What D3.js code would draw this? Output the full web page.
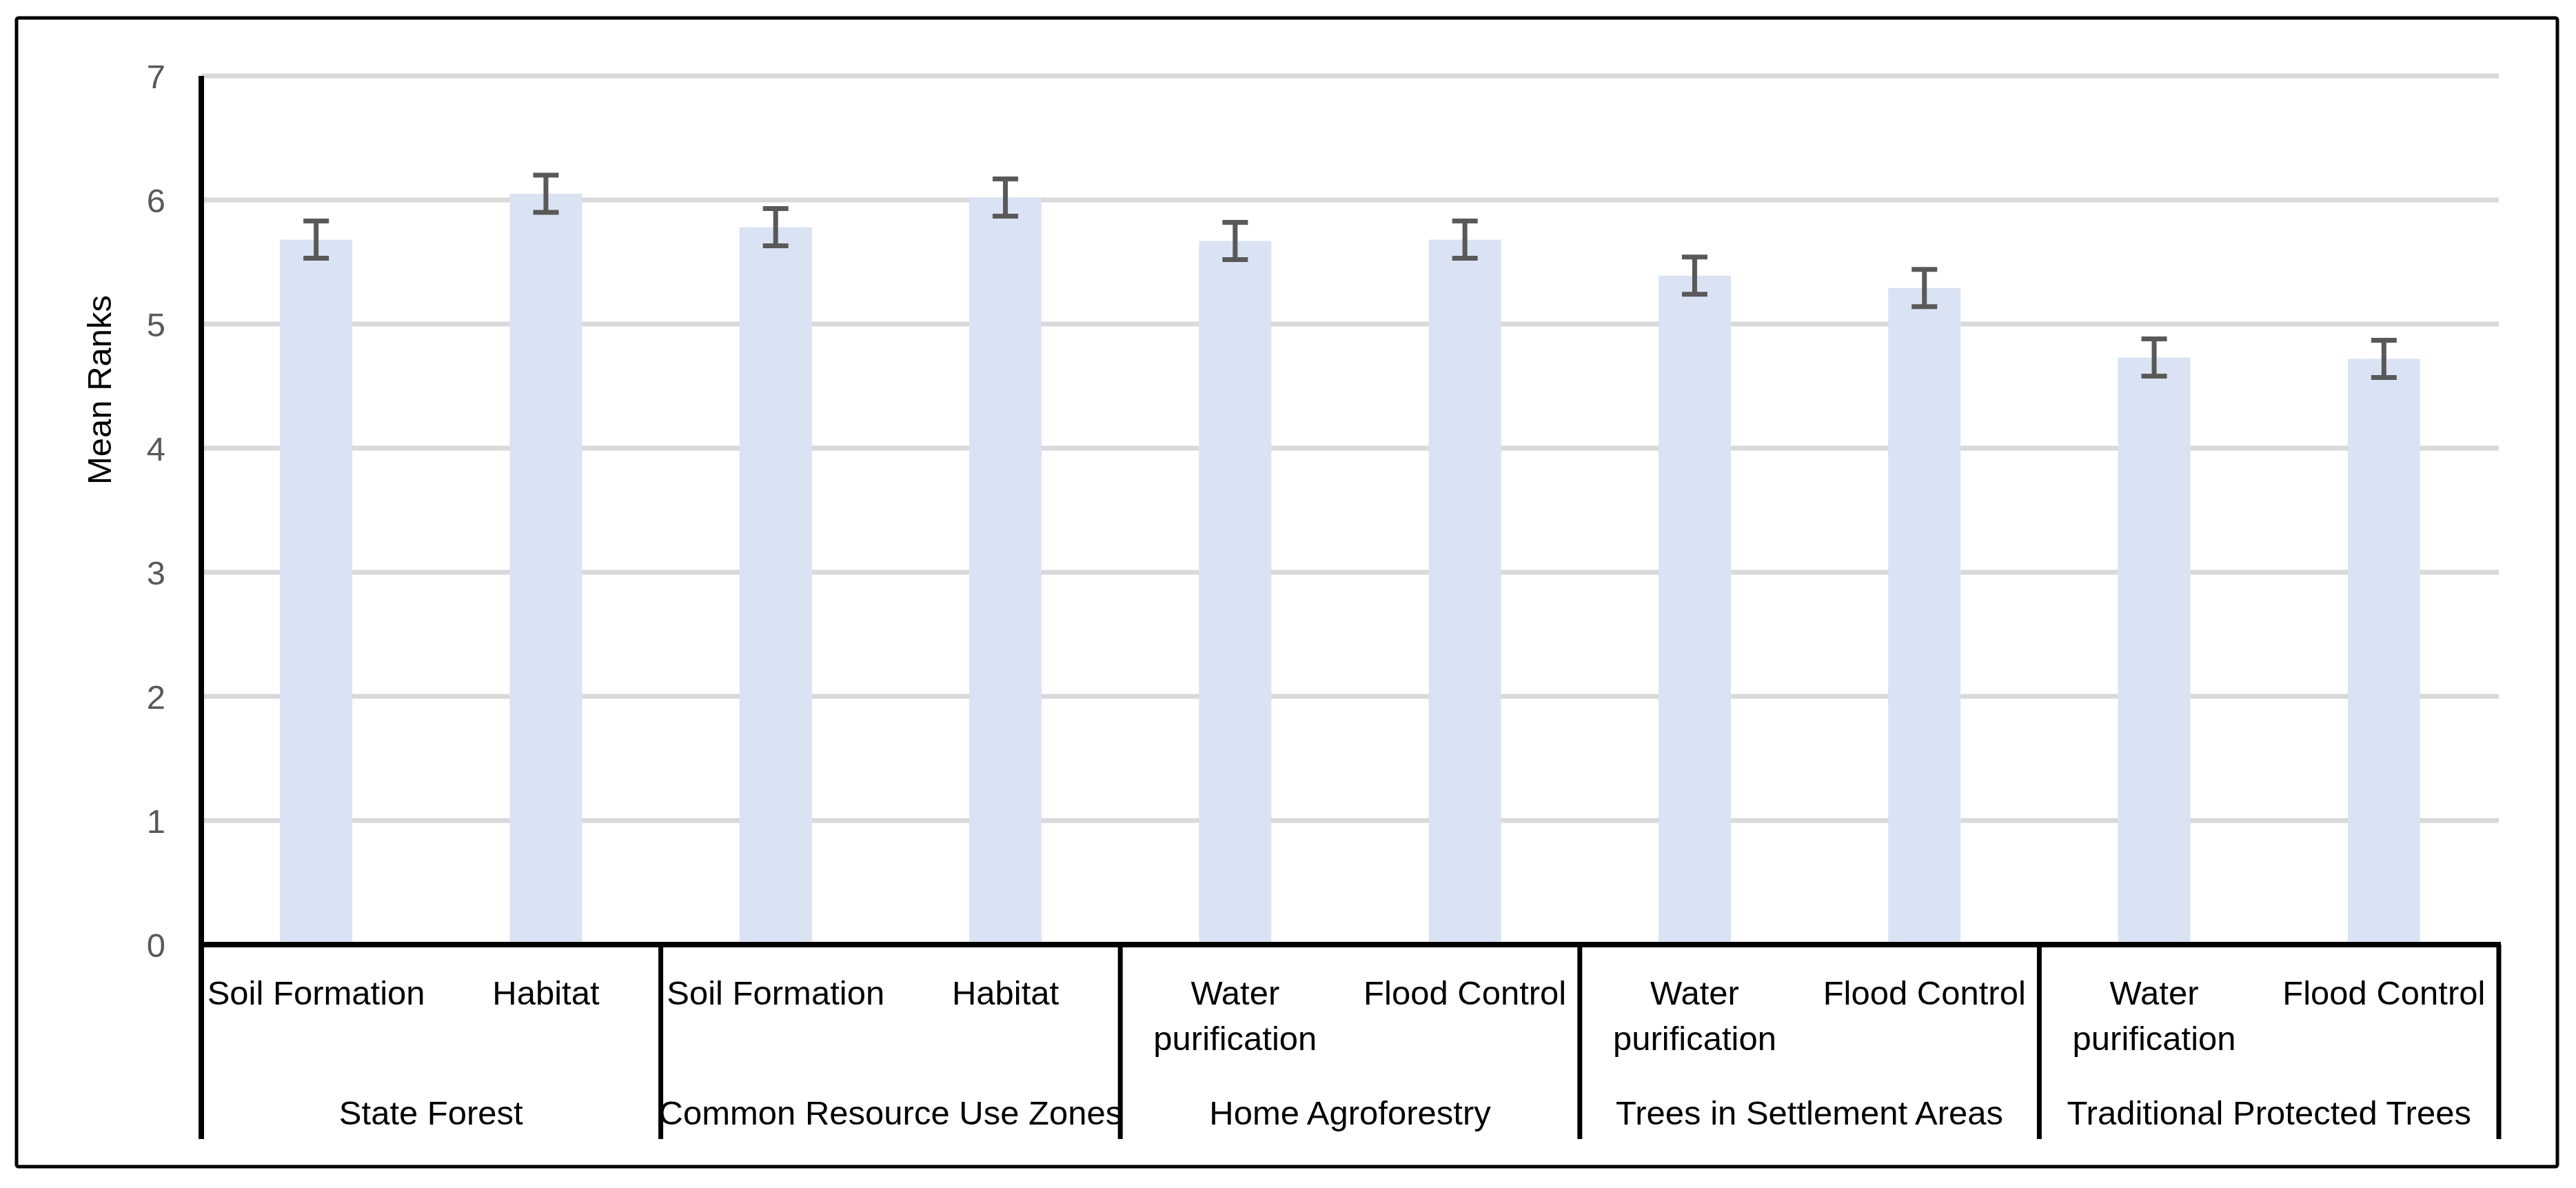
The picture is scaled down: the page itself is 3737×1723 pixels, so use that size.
<!DOCTYPE html>
<html>
<head>
<meta charset="utf-8">
<script src="https://cdn.jsdelivr.net/npm/d3@7/dist/d3.min.js"></script>
<style>
  html, body { margin: 0; padding: 0; background: #ffffff; }
  svg { display: block; }
  text { font-family: "Liberation Sans", Arial, sans-serif; }
</style>
</head>
<body>
<svg id="chart" width="3737" height="1723"></svg>
<script>
// ---- data ----
const groups = ["State Forest", "Common Resource Use Zones", "Home Agroforestry", "Trees in Settlement Areas", "Traditional Protected Trees"];
const groupOfBar = [0, 0, 1, 1, 2, 2, 3, 3, 4, 4];
const services = ["Soil Formation", "Habitat", "Soil Formation", "Habitat", "Water purification", "Flood Control", "Water purification", "Flood Control", "Water purification", "Flood Control"];
const meanRanks = [5.68, 6.05, 5.78, 6.02, 5.67, 5.68, 5.39, 5.29, 4.73, 4.72];
const errorValues = [0.15, 0.15, 0.15, 0.15, 0.15, 0.15, 0.15, 0.15, 0.15, 0.15];
const yTicks = [0, 1, 2, 3, 4, 5, 6, 7];
const yTitle = "Mean Ranks";

// ---- layout ----
const W = 3737, H = 1723;
const plotLeft = 292, plotRight = 3625, plotTop = 110, plotBottom = 1370;
const labelBottom = 1652;
const fontSize = 49;

const svg = d3.select("#chart");
svg.append("rect").attr("x", 0).attr("y", 0).attr("width", W).attr("height", H).attr("fill", "#fff");

// outer chart border
svg.append("rect")
  .attr("x", 24).attr("y", 26).attr("width", 3710 - 24).attr("height", 1692 - 26)
  .attr("rx", 3)
  .attr("fill", "none").attr("stroke", "#000").attr("stroke-width", 5);

const ids = d3.range(meanRanks.length);
const x = d3.scaleBand().domain(ids).range([plotLeft, plotRight]).paddingInner(0.685).paddingOuter(0.3425);
const xg = d3.scaleBand().domain(d3.range(groups.length)).range([plotLeft, plotRight]).padding(0);
const y = d3.scaleLinear().domain([0, 7]).range([plotBottom, plotTop]);

// gridlines
svg.append("g").selectAll("line").data(yTicks.filter(t => t > 0)).join("line")
  .attr("x1", plotLeft).attr("x2", plotRight)
  .attr("y1", d => y(d)).attr("y2", d => y(d))
  .attr("stroke", "#d9d9d9").attr("stroke-width", 7);

// y axis tick labels
const yAxis = d3.axisLeft(y).tickValues(yTicks).tickSize(0).tickPadding(0).tickFormat(d3.format("d"));
const yg = svg.append("g").attr("transform", `translate(240,0)`).call(yAxis);
yg.select(".domain").remove();
yg.selectAll("text")
  .attr("x", 0).attr("dy", "0.36em")
  .attr("fill", "#595959")
  .style("font-size", fontSize + "px")
  .style("font-family", '"Liberation Sans", Arial, sans-serif');

// y title
svg.append("text")
  .attr("transform", "translate(161,703) rotate(-90)")
  .attr("text-anchor", "start")
  .attr("fill", "#000")
  .style("font-size", fontSize + "px")
  .text(yTitle);

// bars
svg.append("g").selectAll("rect").data(ids).join("rect")
  .attr("x", i => x(i)).attr("width", x.bandwidth())
  .attr("y", i => y(meanRanks[i]))
  .attr("height", i => y(0) - y(meanRanks[i]))
  .attr("fill", "#dae3f3");

// error bars
const eb = svg.append("g").attr("stroke", "#595959").attr("stroke-width", 7).attr("fill", "none");
const cx = i => x(i) + x.bandwidth() / 2;
const capHalf = 18.5;
eb.selectAll("line.v").data(ids).join("line").attr("class", "v")
  .attr("x1", cx).attr("x2", cx)
  .attr("y1", i => y(meanRanks[i] + errorValues[i]))
  .attr("y2", i => y(meanRanks[i] - errorValues[i]));
eb.selectAll("line.t").data(ids).join("line").attr("class", "t")
  .attr("x1", i => cx(i) - capHalf).attr("x2", i => cx(i) + capHalf)
  .attr("y1", i => y(meanRanks[i] + errorValues[i]))
  .attr("y2", i => y(meanRanks[i] + errorValues[i]));
eb.selectAll("line.b").data(ids).join("line").attr("class", "b")
  .attr("x1", i => cx(i) - capHalf).attr("x2", i => cx(i) + capHalf)
  .attr("y1", i => y(meanRanks[i] - errorValues[i]))
  .attr("y2", i => y(meanRanks[i] - errorValues[i]));

// axes lines
svg.append("line") // y axis
  .attr("x1", plotLeft).attr("x2", plotLeft)
  .attr("y1", plotTop).attr("y2", labelBottom)
  .attr("stroke", "#000").attr("stroke-width", 8);
svg.append("line") // x axis
  .attr("x1", plotLeft - 4).attr("x2", plotRight + 3)
  .attr("y1", plotBottom).attr("y2", plotBottom)
  .attr("stroke", "#000").attr("stroke-width", 8);

// group separators
const sepXs = d3.range(1, groups.length + 1).map(g => g < groups.length ? xg(g) : plotRight);
svg.append("g").selectAll("line").data(sepXs).join("line")
  .attr("x1", d => d).attr("x2", d => d)
  .attr("y1", plotBottom).attr("y2", labelBottom)
  .attr("stroke", "#000").attr("stroke-width", 7);

// category labels (wrapped)
const catG = svg.append("g").attr("fill", "#000").style("font-size", fontSize + "px").attr("text-anchor", "middle");
const step = x.step();
ids.forEach(i => {
  const t = catG.append("text").attr("x", cx(i)).attr("y", 1457);
  const words = services[i].split(" ");
  let line = [];
  let lineNo = 0;
  let tspan = t.append("tspan").attr("x", cx(i)).attr("y", 1457);
  words.forEach(w => {
    line.push(w);
    tspan.text(line.join(" "));
    if (tspan.node().getComputedTextLength() > step - 8 && line.length > 1) {
      line.pop();
      tspan.text(line.join(" "));
      line = [w];
      lineNo++;
      tspan = t.append("tspan").attr("x", cx(i)).attr("y", 1457 + lineNo * 66).text(w);
    }
  });
});

// group labels
svg.append("g").selectAll("text").data(groups).join("text")
  .attr("x", (d, g) => xg(g) + xg.bandwidth() / 2)
  .attr("y", 1631)
  .attr("text-anchor", "middle")
  .attr("fill", "#000")
  .style("font-size", fontSize + "px")
  .text(d => d);
</script>
</body>
</html>
